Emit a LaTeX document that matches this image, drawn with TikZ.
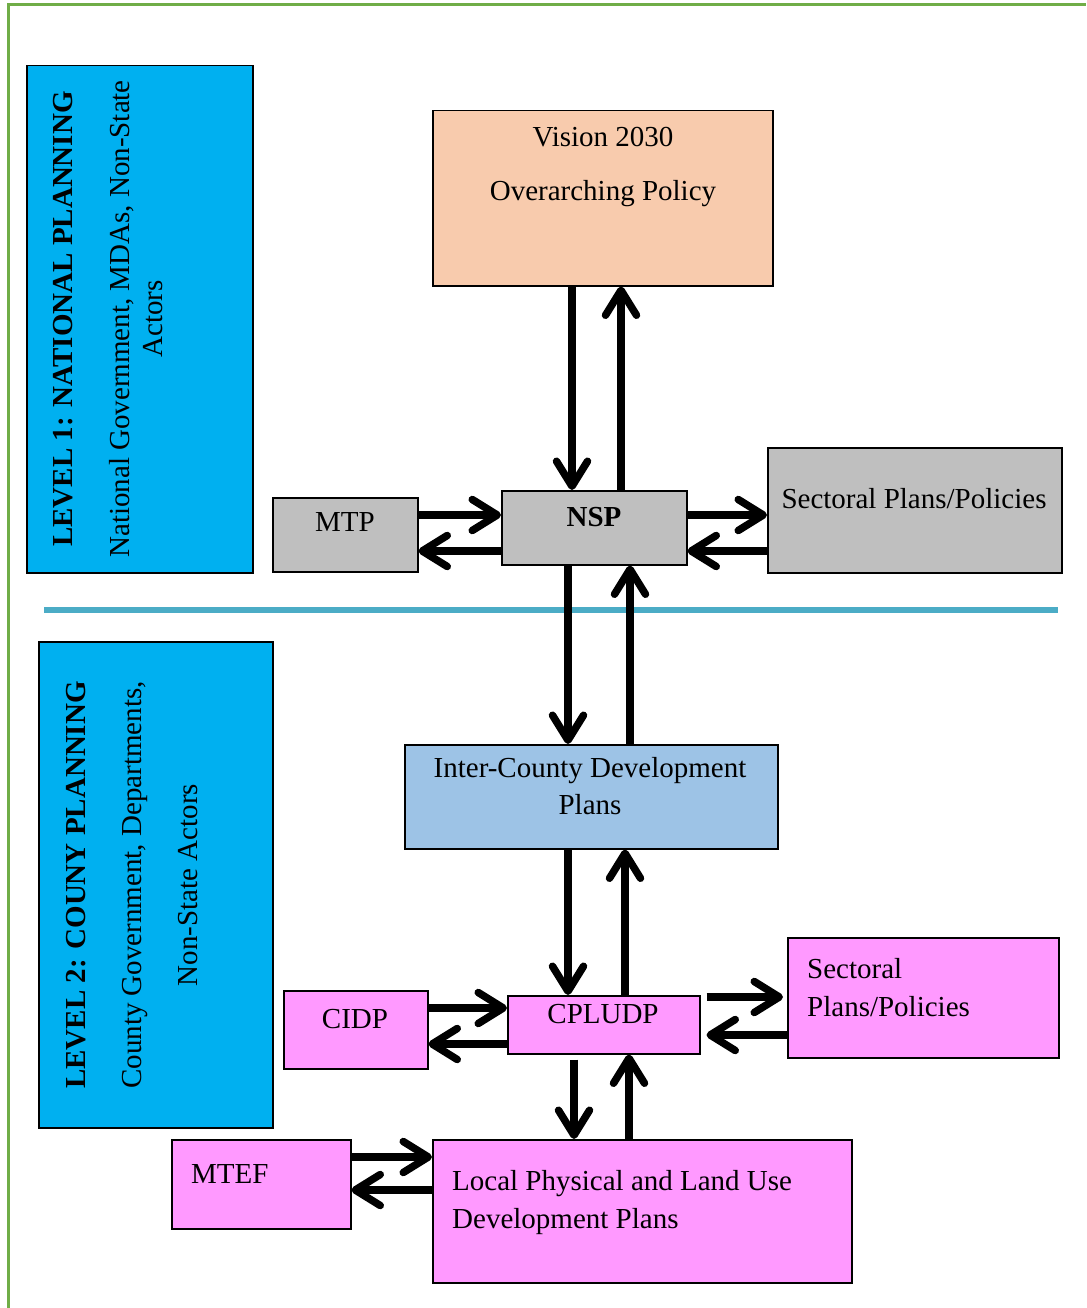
\documentclass[tikz,border=0pt]{standalone}
\usepackage{fontspec}
\setmainfont{Liberation Serif}
\usetikzlibrary{arrows.meta}
\definecolor{bordergreen}{HTML}{70AD47}
\definecolor{divider}{HTML}{4BACC6}
\definecolor{levelblue}{HTML}{00B0F0}
\definecolor{peach}{HTML}{F8CBAD}
\definecolor{greybox}{HTML}{BFBFBF}
\definecolor{interblue}{HTML}{9DC3E6}
\definecolor{pinkbox}{HTML}{FF99FF}
\tikzset{
  box/.style={draw=black, line width=1.5pt, anchor=north west, inner sep=0pt},
  txt/.style={inner sep=0pt, font=\fontsize{29}{37}\selectfont},
  flow/.style={line width=7.5pt, -{Straight Barb[length=25pt,width=31pt,round]},
    preaction={draw=black!12, transform canvas={shift={(2.5pt,-3pt)}}}},
}
\begin{document}
\begin{tikzpicture}[x=1pt, y=-1pt]
  \useasboundingbox (0,0) rectangle (1086,1308);
  \draw[line width=3pt, bordergreen] (8,1308) -- (8,5) -- (1086,5);
  \draw[line width=6pt, divider] (44,610) -- (1058,610);
  % level boxes
  \node[box, fill=levelblue, minimum width=226pt, minimum height=507pt] (lvl1) at (26,65) {};
  \node[box, fill=levelblue, minimum width=234pt, minimum height=486pt] (lvl2) at (38,641) {};
  \node[txt, rotate=90, align=center, font=\fontsize{29}{33}\selectfont] (lvl1-t) at (108,319)
    {\textbf{LEVEL 1: NATIONAL PLANNING}\\[24pt]National Government, MDAs, Non-State\\Actors};
  \node[txt, rotate=90, align=center, font=\fontsize{29}{33}\selectfont] (lvl2-t) at (132,885)
    {\textbf{LEVEL 2: COUNY PLANNING}\\[23pt]County Government, Departments,\\[23pt]Non-State Actors};
  % national level
  \node[box, fill=peach, minimum width=340pt, minimum height=175pt] (vision) at (432,110) {};
  \node[box, fill=greybox, minimum width=145pt, minimum height=74pt] (mtp) at (272,497) {};
  \node[box, fill=greybox, minimum width=185pt, minimum height=74pt] (nsp) at (501,490) {};
  \node[box, fill=greybox, minimum width=294pt, minimum height=125pt] (sect1) at (767,447) {};
  \node[txt] (vision-a) at (603,137) {Vision 2030};
  \node[txt] (vision-b) at (603,194) {Overarching Policy};
  \node[txt] (mtp-t) at (345,522) {MTP};
  \node[txt] (nsp-t) at (594,517) {\bfseries NSP};
  \node[txt] (sect1-t) at (914,499) {Sectoral Plans/Policies};
  % county level
  \node[box, fill=interblue, minimum width=373pt, minimum height=104pt] (inter) at (404,744) {};
  \node[box, fill=pinkbox, minimum width=144pt, minimum height=78pt] (cidp) at (283,990) {};
  \node[box, fill=pinkbox, minimum width=192pt, minimum height=58pt] (cpludp) at (507,995) {};
  \node[box, fill=pinkbox, minimum width=271pt, minimum height=120pt] (sect2) at (787,937) {};
  \node[box, fill=pinkbox, minimum width=179pt, minimum height=89pt] (mtef) at (171,1139) {};
  \node[box, fill=pinkbox, minimum width=419pt, minimum height=143pt] (local) at (432,1139) {};
  \node[txt, align=center] (inter-t) at (590,786) {Inter-County Development\\Plans};
  \node[txt] (cidp-t) at (355,1019) {CIDP};
  \node[txt] (cpludp-t) at (603,1014) {CPLUDP};
  \node[txt, anchor=west, align=left, font=\fontsize{29}{38}\selectfont] (sect2-t) at (807,988) {Sectoral\\Plans/Policies};
  \node[txt, anchor=west] (mtef-t) at (191,1174) {MTEF};
  \node[txt, anchor=west, align=left, font=\fontsize{29}{38}\selectfont] (local-t) at (452,1203) {Local Physical and Land Use\\Development Plans};
  \begin{scope}[flow]
    \draw (vision.south -| 572,0) -- (nsp.north -| 572,0);
    \draw (nsp.north -| 621,0) -- (vision.south -| 621,0);
    \draw (mtp.east |- 0,515) -- (nsp.west |- 0,515);
    \draw (nsp.west |- 0,551) -- (mtp.east |- 0,551);
    \draw (nsp.east |- 0,515) -- (sect1.west |- 0,515);
    \draw (sect1.west |- 0,551) -- (nsp.east |- 0,551);
    \draw (nsp.south -| 568,0) -- (inter.north -| 568,0);
    \draw (inter.north -| 630,0) -- (nsp.south -| 630,0);
    \draw (inter.south -| 568,0) -- (cpludp.north -| 568,0);
    \draw (cpludp.north -| 625,0) -- (inter.south -| 625,0);
    \draw (cidp.east |- 0,1008) -- (cpludp.west |- 0,1008);
    \draw (cpludp.west |- 0,1044) -- (cidp.east |- 0,1044);
    \draw ([xshift=6pt]cpludp.east |- 0,997) -- ([xshift=-4pt]sect2.west |- 0,997);
    \draw (sect2.west |- 0,1035) -- ([xshift=6pt]cpludp.east |- 0,1035);
    \draw ([yshift=-5pt]cpludp.south -| 574,0) -- (local.north -| 574,0);
    \draw (local.north -| 629,0) -- (cpludp.south -| 629,0);
    \draw (mtef.east |- 0,1157) -- (local.west |- 0,1157);
    \draw (local.west |- 0,1190) -- (mtef.east |- 0,1190);
  \end{scope}
\end{tikzpicture}
\end{document}
